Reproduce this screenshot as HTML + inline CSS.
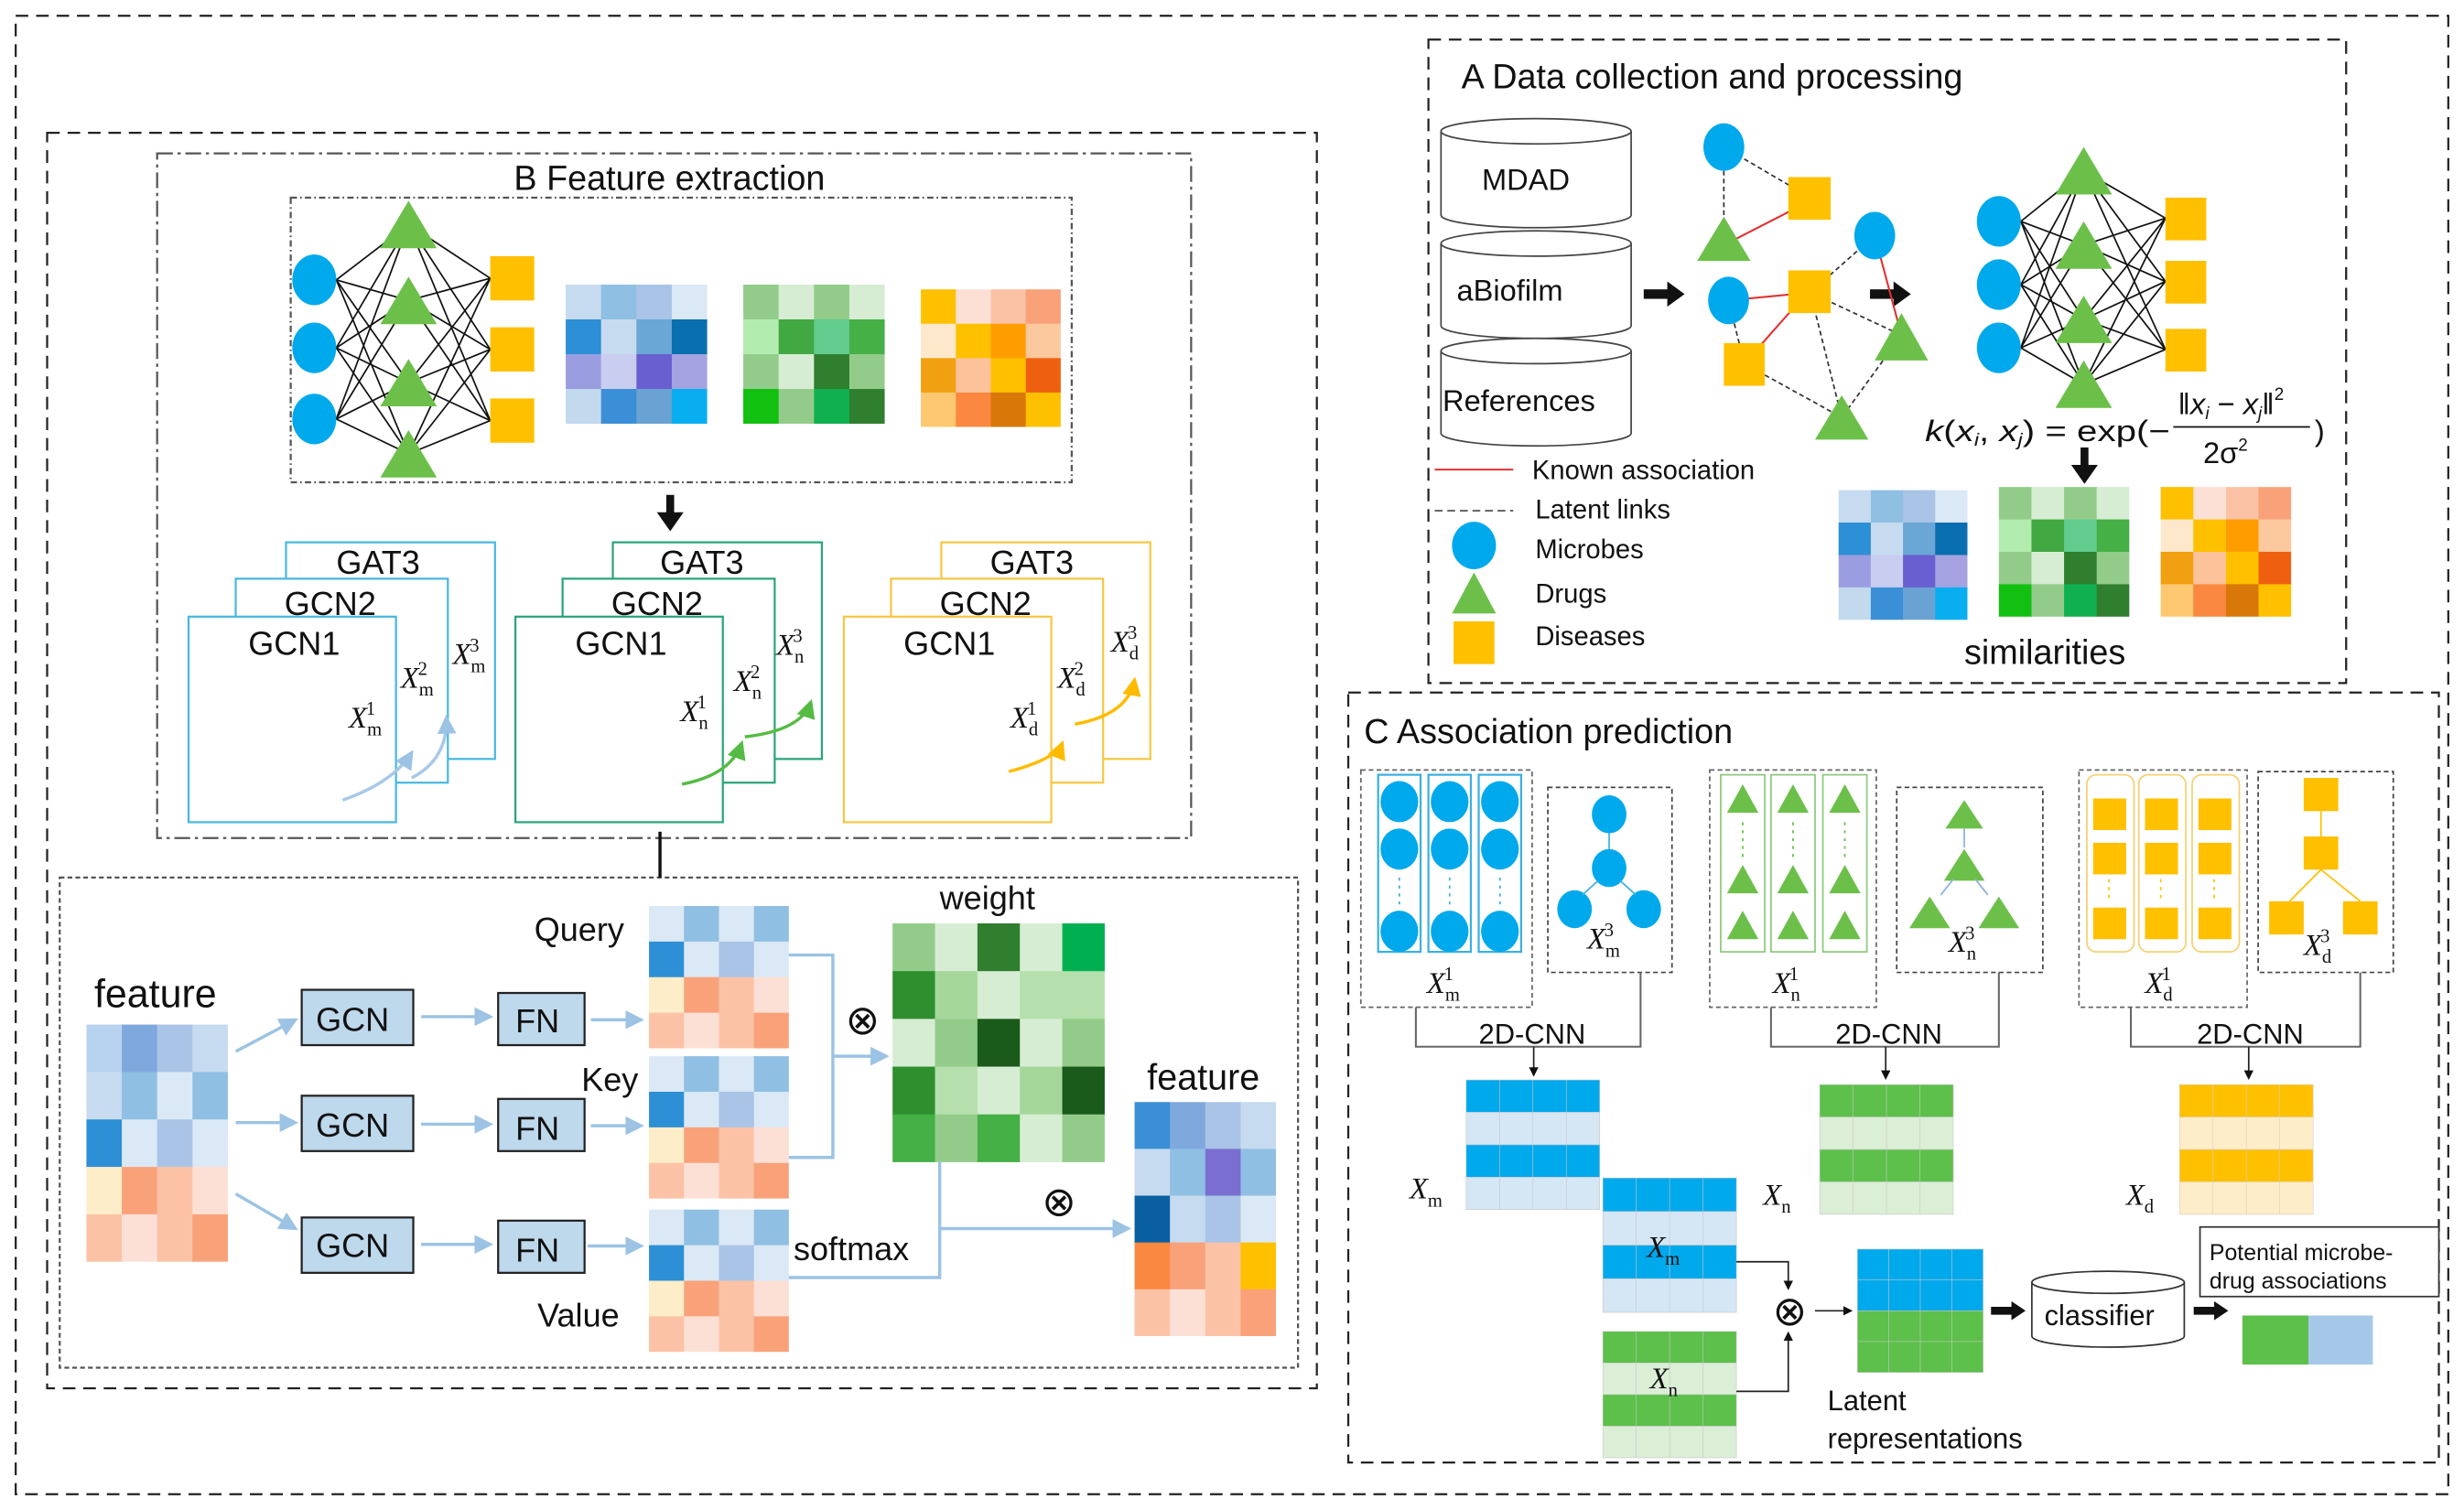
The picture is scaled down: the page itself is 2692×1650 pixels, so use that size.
<!DOCTYPE html>
<html><head><meta charset="utf-8"><style>
html,body{margin:0;padding:0;background:#fff}
svg{display:block}
text{font-family:"Liberation Sans",sans-serif;fill:#111}
.m{font-family:"Liberation Serif",serif;font-style:italic}
</style></head><body>
<svg width="2692" height="1650" viewBox="0 0 1568 955" preserveAspectRatio="none" xmlns="http://www.w3.org/2000/svg" xmlns:xlink="http://www.w3.org/1999/xlink">
<defs>
<marker id="ab" markerWidth="6" markerHeight="6" refX="5" refY="3" orient="auto"><path d="M0,0L6,3L0,6z" fill="#9cc3e4"/></marker>
<marker id="ak" markerWidth="6" markerHeight="6" refX="5" refY="3" orient="auto"><path d="M0,0L6,3L0,6z" fill="#111"/></marker>
<marker id="ag" markerWidth="6" markerHeight="6" refX="5" refY="3" orient="auto"><path d="M0,0L6,3L0,6z" fill="#55bb44"/></marker>
<marker id="ao" markerWidth="6" markerHeight="6" refX="5" refY="3" orient="auto"><path d="M0,0L6,3L0,6z" fill="#ffbb00"/></marker>
<g id="bl">
<rect x="0" y="0" width="25.5" height="25.5" fill="#c6dbef"/><rect x="25" y="0" width="25.5" height="25.5" fill="#8fbfe3"/><rect x="50" y="0" width="25.5" height="25.5" fill="#a9c4e6"/><rect x="75" y="0" width="25" height="25.5" fill="#dbe8f5"/>
<rect x="0" y="25" width="25.5" height="25.5" fill="#2d8fd5"/><rect x="25" y="25" width="25.5" height="25.5" fill="#c6dbef"/><rect x="50" y="25" width="25.5" height="25.5" fill="#6aa6d6"/><rect x="75" y="25" width="25" height="25.5" fill="#0a6fb0"/>
<rect x="0" y="50" width="25.5" height="25.5" fill="#9a9ee0"/><rect x="25" y="50" width="25.5" height="25.5" fill="#c9cdf0"/><rect x="50" y="50" width="25.5" height="25.5" fill="#6a5fd0"/><rect x="75" y="50" width="25" height="25.5" fill="#a4a2e0"/>
<rect x="0" y="75" width="25.5" height="25" fill="#c2d9ee"/><rect x="25" y="75" width="25.5" height="25" fill="#3a8fd6"/><rect x="50" y="75" width="25.5" height="25" fill="#6aa3d3"/><rect x="75" y="75" width="25" height="25" fill="#08aef0"/>
</g>
<g id="gr">
<rect x="0" y="0" width="25.5" height="25.5" fill="#93cc8a"/><rect x="25" y="0" width="25.5" height="25.5" fill="#d6edd3"/><rect x="50" y="0" width="25.5" height="25.5" fill="#93cc8a"/><rect x="75" y="0" width="25" height="25.5" fill="#d6edd3"/>
<rect x="0" y="25" width="25.5" height="25.5" fill="#b2ecae"/><rect x="25" y="25" width="25.5" height="25.5" fill="#42a842"/><rect x="50" y="25" width="25.5" height="25.5" fill="#62cc8e"/><rect x="75" y="25" width="25" height="25.5" fill="#45b045"/>
<rect x="0" y="50" width="25.5" height="25.5" fill="#93cc8a"/><rect x="25" y="50" width="25.5" height="25.5" fill="#d6edd3"/><rect x="50" y="50" width="25.5" height="25.5" fill="#2f7f2f"/><rect x="75" y="50" width="25" height="25.5" fill="#93cc8a"/>
<rect x="0" y="75" width="25.5" height="25" fill="#12c012"/><rect x="25" y="75" width="25.5" height="25" fill="#93cc8a"/><rect x="50" y="75" width="25.5" height="25" fill="#10b050"/><rect x="75" y="75" width="25" height="25" fill="#2f7f2f"/>
</g>
<g id="or">
<rect x="0" y="0" width="25.5" height="25.5" fill="#ffc000"/><rect x="25" y="0" width="25.5" height="25.5" fill="#fde0d5"/><rect x="50" y="0" width="25.5" height="25.5" fill="#fcc2a5"/><rect x="75" y="0" width="25" height="25.5" fill="#f9a27a"/>
<rect x="0" y="25" width="25.5" height="25.5" fill="#fde8cc"/><rect x="25" y="25" width="25.5" height="25.5" fill="#ffc000"/><rect x="50" y="25" width="25.5" height="25.5" fill="#ff9d00"/><rect x="75" y="25" width="25" height="25.5" fill="#fcc89e"/>
<rect x="0" y="50" width="25.5" height="25.5" fill="#f0a010"/><rect x="25" y="50" width="25.5" height="25.5" fill="#fcc29a"/><rect x="50" y="50" width="25.5" height="25.5" fill="#ffc000"/><rect x="75" y="50" width="25" height="25.5" fill="#ee6010"/>
<rect x="0" y="75" width="25.5" height="25" fill="#fdc870"/><rect x="25" y="75" width="25.5" height="25" fill="#fa8840"/><rect x="50" y="75" width="25.5" height="25" fill="#d87808"/><rect x="75" y="75" width="25" height="25" fill="#ffc000"/>
</g>
<g id="qk">
<rect x="0" y="0" width="25.5" height="25.5" fill="#dbe8f5"/><rect x="25" y="0" width="25.5" height="25.5" fill="#8fbfe3"/><rect x="50" y="0" width="25.5" height="25.5" fill="#dbe8f5"/><rect x="75" y="0" width="25" height="25.5" fill="#8fbfe3"/>
<rect x="0" y="25" width="25.5" height="25.5" fill="#2d8fd5"/><rect x="25" y="25" width="25.5" height="25.5" fill="#dbe8f5"/><rect x="50" y="25" width="25.5" height="25.5" fill="#a9c4e6"/><rect x="75" y="25" width="25" height="25.5" fill="#dbe8f5"/>
<rect x="0" y="50" width="25.5" height="25.5" fill="#fdedc8"/><rect x="25" y="50" width="25.5" height="25.5" fill="#f9a27a"/><rect x="50" y="50" width="25.5" height="25.5" fill="#fcc2a5"/><rect x="75" y="50" width="25" height="25.5" fill="#fde0d5"/>
<rect x="0" y="75" width="25.5" height="25" fill="#fcc2a5"/><rect x="25" y="75" width="25.5" height="25" fill="#fde0d5"/><rect x="50" y="75" width="25.5" height="25" fill="#fcc2a5"/><rect x="75" y="75" width="25" height="25" fill="#f9a27a"/>
</g>
<g id="gB" stroke="#c8c8c8" stroke-width="0.6">
<rect x="0" y="0" width="100" height="25" fill="#00a8ec" vector-effect="non-scaling-stroke"/><rect x="0" y="25" width="100" height="25" fill="#d5e6f5" vector-effect="non-scaling-stroke"/><rect x="0" y="50" width="100" height="25" fill="#00a8ec" vector-effect="non-scaling-stroke"/><rect x="0" y="75" width="100" height="25" fill="#d5e6f5" vector-effect="non-scaling-stroke"/>
<path d="M25,0V100M50,0V100M75,0V100" vector-effect="non-scaling-stroke"/>
</g>
<g id="gG" stroke="#c8c8c8" stroke-width="0.6">
<rect x="0" y="0" width="100" height="25" fill="#5cc04a" vector-effect="non-scaling-stroke"/><rect x="0" y="25" width="100" height="25" fill="#dbeed6" vector-effect="non-scaling-stroke"/><rect x="0" y="50" width="100" height="25" fill="#5cc04a" vector-effect="non-scaling-stroke"/><rect x="0" y="75" width="100" height="25" fill="#dbeed6" vector-effect="non-scaling-stroke"/>
<path d="M25,0V100M50,0V100M75,0V100" vector-effect="non-scaling-stroke"/>
</g>
<g id="gO" stroke="#d8d0c0" stroke-width="0.6">
<rect x="0" y="0" width="100" height="25" fill="#ffc000" vector-effect="non-scaling-stroke"/><rect x="0" y="25" width="100" height="25" fill="#fdedc8" vector-effect="non-scaling-stroke"/><rect x="0" y="50" width="100" height="25" fill="#ffc000" vector-effect="non-scaling-stroke"/><rect x="0" y="75" width="100" height="25" fill="#fdedc8" vector-effect="non-scaling-stroke"/>
<path d="M25,0V100M50,0V100M75,0V100" vector-effect="non-scaling-stroke"/>
</g>
<g id="gL" stroke="#c8c8c8" stroke-width="0.6">
<rect x="0" y="0" width="100" height="25" fill="#00a8ec" vector-effect="non-scaling-stroke"/><rect x="0" y="25" width="100" height="25" fill="#00a8ec" vector-effect="non-scaling-stroke"/><rect x="0" y="50" width="100" height="25" fill="#5cc04a" vector-effect="non-scaling-stroke"/><rect x="0" y="75" width="100" height="25" fill="#5cc04a" vector-effect="non-scaling-stroke"/>
<path d="M25,0V100M50,0V100M75,0V100" vector-effect="non-scaling-stroke"/>
</g>
</defs>

<g fill="none" stroke="#222" stroke-width="1.3">
<rect x="10" y="10" width="1548" height="935" stroke-dasharray="8,5"/>
<rect x="30" y="84" width="808" height="794" stroke-dasharray="8,5"/>
<rect x="100" y="97" width="658" height="433" stroke-dasharray="10,3,2,3" stroke="#555"/>
<rect x="185" y="125" width="497" height="180" stroke-dasharray="4,2,1,2" stroke="#555"/>
<rect x="38" y="555" width="788" height="310" stroke-dasharray="3,2" stroke="#555"/>
<rect x="909" y="25" width="584" height="407" stroke-dasharray="8,5"/>
<rect x="858" y="438" width="694" height="487" stroke-dasharray="8,5"/>
</g>

<!-- ===== B top network ===== -->
<path fill="none" stroke="#111" stroke-width="1" d="M214,177L260,142M214,177L260,190M214,177L260,242M214,177L260,287M214,220L260,142M214,220L260,190M214,220L260,242M214,220L260,287M214,265L260,142M214,265L260,190M214,265L260,242M214,265L260,287M260,142L312,176M260,142L312,221M260,142L312,266M260,190L312,176M260,190L312,221M260,190L312,266M260,242L312,176M260,242L312,221M260,242L312,266M260,287L312,176M260,287L312,221M260,287L312,266"/>
<g fill="#00a8ec"><ellipse cx="200" cy="177" rx="14" ry="16"/><ellipse cx="200" cy="220" rx="14" ry="16"/><ellipse cx="200" cy="265" rx="14" ry="16"/></g>
<g fill="#6cc04a"><polygon points="242,157 260,127 278,157"/><polygon points="242,205 260,175 278,205"/><polygon points="242,257 260,227 278,257"/><polygon points="242,302 260,272 278,302"/></g>
<g fill="#ffc000"><rect x="312" y="162" width="28" height="28"/><rect x="312" y="207" width="28" height="28"/><rect x="312" y="252" width="28" height="28"/></g>
<use xlink:href="#bl" transform="translate(360,180) scale(0.9,0.88)"/>
<use xlink:href="#gr" transform="translate(473,180) scale(0.9,0.88)"/>
<use xlink:href="#or" transform="translate(586,183) scale(0.89,0.87)"/>
<rect x="424" y="313" width="5" height="12" fill="#111"/><polygon points="418,324 435,324 426.5,336" fill="#111"/>

<!-- stacks -->
<g fill="#fff" stroke-width="1.3">
<rect x="182" y="343" width="133" height="137" stroke="#49b8e0"/><rect x="150" y="366" width="135" height="129" stroke="#49b8e0"/><rect x="120" y="390" width="132" height="130" stroke="#49b8e0"/>
<rect x="390" y="343" width="133" height="137" stroke="#2aa57a"/><rect x="358" y="366" width="135" height="129" stroke="#2aa57a"/><rect x="328" y="390" width="132" height="130" stroke="#2aa57a"/>
<rect x="599" y="343" width="133" height="137" stroke="#f6c744"/><rect x="567" y="366" width="135" height="129" stroke="#f6c744"/><rect x="537" y="390" width="132" height="130" stroke="#f6c744"/>
</g>
<g fill="none" stroke-width="2">
<path d="M218,506 Q250,495 262,476" stroke="#a8c8e8" marker-end="url(#ab)"/>
<path d="M262,492 Q285,480 284,454" stroke="#a8c8e8" marker-end="url(#ab)"/>
<path d="M434,496 Q465,490 472,470" stroke="#55bb44" marker-end="url(#ag)"/>
<path d="M474,466 Q510,462 516,444" stroke="#55bb44" marker-end="url(#ag)"/>
<path d="M642,488 Q672,480 676,470" stroke="#ffbb00" marker-end="url(#ao)"/>
<path d="M684,458 Q718,452 722,430" stroke="#ffbb00" marker-end="url(#ao)"/>
</g>
<g font-size="21">
<text x="214" y="363">GAT3</text><text x="181" y="389">GCN2</text><text x="158" y="414">GCN1</text>
<text x="420" y="363">GAT3</text><text x="389" y="389">GCN2</text><text x="366" y="414">GCN1</text>
<text x="630" y="363">GAT3</text><text x="598" y="389">GCN2</text><text x="575" y="414">GCN1</text>
</g>
<g font-size="19">
<text x="222" y="460" class="m">X<tspan font-size="12" dy="5" font-style="normal">m</tspan><tspan font-size="12" dx="-10" dy="-13" font-style="normal">1</tspan></text>
<text x="255" y="435" class="m">X<tspan font-size="12" dy="5" font-style="normal">m</tspan><tspan font-size="12" dx="-10" dy="-13" font-style="normal">2</tspan></text>
<text x="288" y="420" class="m">X<tspan font-size="12" dy="5" font-style="normal">m</tspan><tspan font-size="12" dx="-10" dy="-13" font-style="normal">3</tspan></text>
<text x="433" y="456" class="m">X<tspan font-size="12" dy="5" font-style="normal">n</tspan><tspan font-size="12" dx="-7" dy="-13" font-style="normal">1</tspan></text>
<text x="467" y="437" class="m">X<tspan font-size="12" dy="5" font-style="normal">n</tspan><tspan font-size="12" dx="-7" dy="-13" font-style="normal">2</tspan></text>
<text x="494" y="414" class="m">X<tspan font-size="12" dy="5" font-style="normal">n</tspan><tspan font-size="12" dx="-7" dy="-13" font-style="normal">3</tspan></text>
<text x="643" y="460" class="m">X<tspan font-size="12" dy="5" font-style="normal">d</tspan><tspan font-size="12" dx="-7" dy="-13" font-style="normal">1</tspan></text>
<text x="673" y="435" class="m">X<tspan font-size="12" dy="5" font-style="normal">d</tspan><tspan font-size="12" dx="-7" dy="-13" font-style="normal">2</tspan></text>
<text x="707" y="412" class="m">X<tspan font-size="12" dy="5" font-style="normal">d</tspan><tspan font-size="12" dx="-7" dy="-13" font-style="normal">3</tspan></text>
</g>
<line x1="420" y1="555" x2="420" y2="526" stroke="#111" stroke-width="2"/>

<!-- ===== B bottom ===== -->
<g transform="translate(55,648)">
<rect x="0" y="0" width="23" height="31" fill="#b8d3ef"/><rect x="22.5" y="0" width="23" height="31" fill="#7fa8dd"/><rect x="45" y="0" width="23" height="31" fill="#a9c4e6"/><rect x="67.5" y="0" width="22.5" height="31" fill="#c6dbef"/>
<rect x="0" y="30" width="23" height="31" fill="#c6dbef"/><rect x="22.5" y="30" width="23" height="31" fill="#8fbfe3"/><rect x="45" y="30" width="23" height="31" fill="#dbe8f5"/><rect x="67.5" y="30" width="22.5" height="31" fill="#8fbfe3"/>
<rect x="0" y="60" width="23" height="31" fill="#2d8fd5"/><rect x="22.5" y="60" width="23" height="31" fill="#dbe8f5"/><rect x="45" y="60" width="23" height="31" fill="#a9c4e6"/><rect x="67.5" y="60" width="22.5" height="31" fill="#dbe8f5"/>
<rect x="0" y="90" width="23" height="31" fill="#fdedc8"/><rect x="22.5" y="90" width="23" height="31" fill="#f9a27a"/><rect x="45" y="90" width="23" height="31" fill="#fcc2a5"/><rect x="67.5" y="90" width="22.5" height="31" fill="#fde0d5"/>
<rect x="0" y="120" width="23" height="30" fill="#fcc2a5"/><rect x="22.5" y="120" width="23" height="30" fill="#fde0d5"/><rect x="45" y="120" width="23" height="30" fill="#fcc2a5"/><rect x="67.5" y="120" width="22.5" height="30" fill="#f9a27a"/>
</g>
<g transform="translate(722,697)">
<rect x="0" y="0" width="23" height="30" fill="#3a8fd6"/><rect x="22.5" y="0" width="23" height="30" fill="#7fa8dd"/><rect x="45" y="0" width="23" height="30" fill="#a9c4e6"/><rect x="67.5" y="0" width="22.5" height="30" fill="#c6dbef"/>
<rect x="0" y="29.6" width="23" height="30" fill="#c6dbef"/><rect x="22.5" y="29.6" width="23" height="30" fill="#8fbfe3"/><rect x="45" y="29.6" width="23" height="30" fill="#7a6ed0"/><rect x="67.5" y="29.6" width="22.5" height="30" fill="#8fbfe3"/>
<rect x="0" y="59.2" width="23" height="30" fill="#0a5fa0"/><rect x="22.5" y="59.2" width="23" height="30" fill="#c6dbef"/><rect x="45" y="59.2" width="23" height="30" fill="#a9c4e6"/><rect x="67.5" y="59.2" width="22.5" height="30" fill="#dbe8f5"/>
<rect x="0" y="88.8" width="23" height="30" fill="#fa8840"/><rect x="22.5" y="88.8" width="23" height="30" fill="#f9a27a"/><rect x="45" y="88.8" width="23" height="30" fill="#fcc2a5"/><rect x="67.5" y="88.8" width="22.5" height="30" fill="#ffc000"/>
<rect x="0" y="118.4" width="23" height="29.6" fill="#fcc2a5"/><rect x="22.5" y="118.4" width="23" height="29.6" fill="#fde0d5"/><rect x="45" y="118.4" width="23" height="29.6" fill="#fcc2a5"/><rect x="67.5" y="118.4" width="22.5" height="29.6" fill="#f9a27a"/>
</g>
<g transform="translate(568,584)">
<rect x="0" y="0" width="27.5" height="30.5" fill="#93cc8a"/><rect x="27" y="0" width="27.5" height="30.5" fill="#d6edd3"/><rect x="54" y="0" width="27.5" height="30.5" fill="#2f7f2f"/><rect x="81" y="0" width="27.5" height="30.5" fill="#d6edd3"/><rect x="108" y="0" width="27" height="30.5" fill="#00b050"/>
<rect x="0" y="30.2" width="27.5" height="30.5" fill="#2f8f2f"/><rect x="27" y="30.2" width="27.5" height="30.5" fill="#a5d69a"/><rect x="54" y="30.2" width="27.5" height="30.5" fill="#d6edd3"/><rect x="81" y="30.2" width="27.5" height="30.5" fill="#b5dfac"/><rect x="108" y="30.2" width="27" height="30.5" fill="#b5dfac"/>
<rect x="0" y="60.4" width="27.5" height="30.5" fill="#d6edd3"/><rect x="27" y="60.4" width="27.5" height="30.5" fill="#93cc8a"/><rect x="54" y="60.4" width="27.5" height="30.5" fill="#1a5a1a"/><rect x="81" y="60.4" width="27.5" height="30.5" fill="#d6edd3"/><rect x="108" y="60.4" width="27" height="30.5" fill="#93cc8a"/>
<rect x="0" y="90.6" width="27.5" height="30.5" fill="#2f8f2f"/><rect x="27" y="90.6" width="27.5" height="30.5" fill="#b5dfac"/><rect x="54" y="90.6" width="27.5" height="30.5" fill="#d6edd3"/><rect x="81" y="90.6" width="27.5" height="30.5" fill="#a5d69a"/><rect x="108" y="90.6" width="27" height="30.5" fill="#1a5a1a"/>
<rect x="0" y="120.8" width="27.5" height="30.2" fill="#45b045"/><rect x="27" y="120.8" width="27.5" height="30.2" fill="#93cc8a"/><rect x="54" y="120.8" width="27.5" height="30.2" fill="#45b045"/><rect x="81" y="120.8" width="27.5" height="30.2" fill="#d6edd3"/><rect x="108" y="120.8" width="27" height="30.2" fill="#93cc8a"/>
</g>
<use xlink:href="#qk" transform="translate(413,573) scale(0.89,0.9)"/>
<use xlink:href="#qk" transform="translate(413,668) scale(0.89,0.9)"/>
<use xlink:href="#qk" transform="translate(413,765) scale(0.89,0.9)"/>
<g fill="#bed8ec" stroke="#222" stroke-width="1.3">
<rect x="192" y="626" width="71" height="35"/><rect x="192" y="693" width="71" height="35"/><rect x="192" y="770" width="71" height="35"/>
<rect x="317" y="628" width="55" height="33"/><rect x="317" y="695" width="55" height="33"/><rect x="317" y="772" width="55" height="33"/>
</g>
<g stroke="#9cc3e4" stroke-width="2" fill="none">
<line x1="150" y1="665" x2="188" y2="645" marker-end="url(#ab)"/><line x1="150" y1="710" x2="188" y2="710" marker-end="url(#ab)"/><line x1="150" y1="755" x2="188" y2="777" marker-end="url(#ab)"/>
<line x1="268" y1="643" x2="312" y2="643" marker-end="url(#ab)"/><line x1="268" y1="711" x2="312" y2="711" marker-end="url(#ab)"/><line x1="268" y1="787" x2="312" y2="787" marker-end="url(#ab)"/>
<line x1="376" y1="645" x2="408" y2="645" marker-end="url(#ab)"/><line x1="376" y1="712" x2="408" y2="712" marker-end="url(#ab)"/><line x1="374" y1="788" x2="408" y2="788" marker-end="url(#ab)"/>
<path d="M502,604 H530 V732 H502"/><line x1="530" y1="668" x2="564" y2="668" marker-end="url(#ab)"/>
<path d="M502,808 H598 V735"/><line x1="598" y1="777" x2="718" y2="777" marker-end="url(#ab)"/>
</g>
<text x="60" y="637" font-size="25">feature</text>
<text x="730" y="689" font-size="23">feature</text>
<text x="598" y="575" font-size="21">weight</text>
<text x="340" y="595" font-size="21">Query</text>
<text x="370" y="690" font-size="21">Key</text>
<text x="342" y="839" font-size="21">Value</text>
<text x="505" y="797" font-size="21">softmax</text>
<g font-size="21"><text x="201" y="652">GCN</text><text x="201" y="719">GCN</text><text x="201" y="795">GCN</text>
<text x="328" y="653">FN</text><text x="328" y="721">FN</text><text x="328" y="798">FN</text></g>
<g font-size="26" font-family="DejaVu Sans"><text x="538" y="654">⊗</text><text x="663" y="769">⊗</text><text x="1128" y="838">⊗</text></g>
<text x="327" y="120" font-size="22">B  Feature extraction</text>

<!-- ===== A ===== -->
<text x="930" y="56" font-size="22">A  Data collection and processing</text>
<g fill="#fff" stroke="#444" stroke-width="1">
<path d="M917,83 V136 A60.5,8 0 0 0 1038,136 V83"/><ellipse cx="977.5" cy="83" rx="60.5" ry="8"/>
<path d="M917,154 V206 A60.5,8 0 0 0 1038,206 V154"/><ellipse cx="977.5" cy="154" rx="60.5" ry="8"/>
<path d="M917,222 V274 A60.5,8 0 0 0 1038,274 V222"/><ellipse cx="977.5" cy="222" rx="60.5" ry="8"/>
</g>
<g font-size="19"><text x="943" y="120">MDAD</text><text x="927" y="190">aBiofilm</text><text x="918" y="260">References</text></g>
<g fill="#111"><rect x="1046" y="183" width="16" height="6"/><polygon points="1061,178 1072,186 1061,194"/><rect x="1190" y="183" width="16" height="6"/><polygon points="1205,178 1216,186 1205,194"/></g>
<g stroke="#333" stroke-dasharray="3,2" stroke-width="1">
<line x1="1097" y1="93" x2="1152" y2="125"/><line x1="1097" y1="93" x2="1097" y2="150"/><line x1="1193" y1="149" x2="1152" y2="185"/><line x1="1100" y1="190" x2="1110" y2="230"/>
<line x1="1152" y1="185" x2="1210" y2="212"/><line x1="1152" y1="185" x2="1172" y2="264"/><line x1="1210" y1="212" x2="1172" y2="264"/><line x1="1110" y1="230" x2="1172" y2="264"/>
</g>
<g stroke="#e23030" stroke-width="1.2">
<line x1="1097" y1="155" x2="1152" y2="127"/><line x1="1100" y1="190" x2="1152" y2="185"/><line x1="1193" y1="149" x2="1210" y2="212"/><line x1="1110" y1="230" x2="1150" y2="185"/>
</g>
<g fill="#00a8ec"><ellipse cx="1097" cy="93" rx="13" ry="15"/><ellipse cx="1193" cy="149" rx="13" ry="15"/><ellipse cx="1100" cy="190" rx="13" ry="15"/></g>
<g fill="#ffc000"><rect x="1138" y="112" width="27" height="27"/><rect x="1138" y="171" width="27" height="27"/><rect x="1097" y="217" width="26" height="27"/></g>
<g fill="#6cc04a"><polygon points="1080,165 1097,137 1114,165"/><polygon points="1193,228 1210,198 1227,228"/><polygon points="1155,278 1172,250 1189,278"/></g>
<path fill="none" stroke="#111" stroke-width="1" d="M1286,140L1326,108M1286,140L1326,155M1286,140L1326,202M1286,140L1326,243M1286,180L1326,108M1286,180L1326,155M1286,180L1326,202M1286,180L1326,243M1286,220L1326,108M1286,220L1326,155M1286,220L1326,202M1286,220L1326,243M1326,108L1378,138M1326,108L1378,178M1326,108L1378,221M1326,155L1378,138M1326,155L1378,178M1326,155L1378,221M1326,202L1378,138M1326,202L1378,178M1326,202L1378,221M1326,243L1378,138M1326,243L1378,178M1326,243L1378,221"/>
<g fill="#00a8ec"><ellipse cx="1272" cy="140" rx="14" ry="16"/><ellipse cx="1272" cy="180" rx="14" ry="16"/><ellipse cx="1272" cy="220" rx="14" ry="16"/></g>
<g fill="#6cc04a"><polygon points="1308,123 1326,93 1344,123"/><polygon points="1308,170 1326,140 1344,170"/><polygon points="1308,217 1326,187 1344,217"/><polygon points="1308,258 1326,228 1344,258"/></g>
<g fill="#ffc000"><rect x="1378" y="125" width="26" height="27"/><rect x="1378" y="165" width="26" height="27"/><rect x="1378" y="208" width="26" height="27"/></g>
<g font-family="Liberation Serif" font-size="19">
<text x="1225" y="279" textLength="156" lengthAdjust="spacingAndGlyphs" font-family="Liberation Serif"><tspan font-style="italic">k</tspan>(<tspan font-style="italic">x</tspan><tspan font-size="11" dy="3" font-style="italic">i</tspan><tspan dy="-3">, </tspan><tspan font-style="italic">x</tspan><tspan font-size="11" dy="3" font-style="italic">j</tspan><tspan dy="-3">) = exp(−</tspan></text>
<text x="1386" y="262" font-family="Liberation Serif">‖<tspan font-style="italic">x</tspan><tspan font-size="11" dy="3" font-style="italic">i</tspan><tspan dy="-3"> − </tspan><tspan font-style="italic">x</tspan><tspan font-size="11" dy="3" font-style="italic">j</tspan><tspan dy="-3">‖</tspan><tspan font-size="11" dy="-9">2</tspan></text>
<text x="1402" y="293" font-family="Liberation Serif">2σ<tspan font-size="11" dy="-8">2</tspan></text><text x="1473" y="279" font-family="Liberation Serif">)</text>
</g>
<line x1="1383" y1="270" x2="1470" y2="270" stroke="#111" stroke-width="1"/>
<rect x="1324" y="283" width="5" height="13" fill="#111"/><polygon points="1318,294 1335,294 1326.5,306" fill="#111"/>
<use xlink:href="#bl" transform="translate(1170,310) scale(0.82,0.82)"/>
<use xlink:href="#gr" transform="translate(1272,308) scale(0.83,0.82)"/>
<use xlink:href="#or" transform="translate(1375,308) scale(0.83,0.82)"/>
<text x="1250" y="420" font-size="22">similarities</text>
<line x1="913" y1="297" x2="963" y2="297" stroke="#e23030" stroke-width="1.2"/>
<line x1="913" y1="323" x2="963" y2="323" stroke="#444" stroke-dasharray="5,3"/>
<ellipse cx="938" cy="345" rx="14" ry="15" fill="#00a8ec"/>
<polygon points="924,388 938,362 952,388" fill="#6cc04a"/>
<rect x="925" y="393" width="26" height="27" fill="#ffc000"/>
<g font-size="17"><text x="975" y="303">Known association</text><text x="977" y="328">Latent links</text><text x="977" y="353">Microbes</text><text x="977" y="381">Drugs</text><text x="977" y="408">Diseases</text></g>

<!-- ===== C ===== -->
<text x="868" y="470" font-size="22">C  Association prediction</text>
<g fill="none" stroke-dasharray="3,2" stroke-width="1">
<rect x="866" y="487" width="109" height="150" stroke="#666"/><rect x="985" y="498" width="79" height="117" stroke="#444"/>
<rect x="1088" y="487" width="106" height="150" stroke="#666"/><rect x="1207" y="498" width="93" height="117" stroke="#444"/>
<rect x="1323" y="487" width="107" height="150" stroke="#666"/><rect x="1437" y="488" width="86" height="127" stroke="#444"/>
</g>
<g fill="none" stroke="#3bb0e0" stroke-width="1.3"><rect x="877" y="490" width="27" height="112"/><rect x="909" y="490" width="27" height="112"/><rect x="941" y="490" width="27" height="112"/></g>
<g fill="#00a8ec">
<ellipse cx="890.5" cy="507" rx="12" ry="13"/><ellipse cx="890.5" cy="537" rx="12" ry="13"/><ellipse cx="890.5" cy="589" rx="12" ry="13"/>
<ellipse cx="922.5" cy="507" rx="12" ry="13"/><ellipse cx="922.5" cy="537" rx="12" ry="13"/><ellipse cx="922.5" cy="589" rx="12" ry="13"/>
<ellipse cx="954.5" cy="507" rx="12" ry="13"/><ellipse cx="954.5" cy="537" rx="12" ry="13"/><ellipse cx="954.5" cy="589" rx="12" ry="13"/>
<ellipse cx="1024" cy="515" rx="11" ry="12"/><ellipse cx="1024" cy="549" rx="11" ry="12"/><ellipse cx="1002" cy="575" rx="11" ry="12"/><ellipse cx="1046" cy="575" rx="11" ry="12"/>
</g>
<path d="M890.5,555V573M922.5,555V573M954.5,555V573" stroke="#3bb0e0" stroke-dasharray="2,3"/>
<path d="M1024,527V537M1017,557L1007,566M1031,557L1041,566" stroke="#3bb0e0"/>
<g fill="none" stroke="#8cc87a" stroke-width="1"><rect x="1095" y="490" width="28" height="112"/><rect x="1127" y="490" width="28" height="112"/><rect x="1160" y="490" width="28" height="112"/></g>
<g fill="#6cc04a">
<polygon points="1099,514 1109,496 1119,514"/><polygon points="1099,565 1109,547 1119,565"/><polygon points="1099,594 1109,576 1119,594"/>
<polygon points="1131,514 1141,496 1151,514"/><polygon points="1131,565 1141,547 1151,565"/><polygon points="1131,594 1141,576 1151,594"/>
<polygon points="1164,514 1174,496 1184,514"/><polygon points="1164,565 1174,547 1184,565"/><polygon points="1164,594 1174,576 1184,594"/>
<polygon points="1238,524 1250,506 1262,524"/><polygon points="1237,557 1250,537 1263,557"/><polygon points="1215,587 1228,567 1241,587"/><polygon points="1259,587 1272,567 1285,587"/>
</g>
<path d="M1109,520V542M1141,520V542M1174,520V542" stroke="#6cc04a" stroke-dasharray="2,3"/>
<path d="M1250,524V536M1243,556L1235,566M1257,556L1265,566" stroke="#8ab0e0"/>
<g fill="none" stroke="#f6d070" stroke-width="1"><rect x="1328" y="490" width="30" height="112" rx="6"/><rect x="1361" y="490" width="30" height="112" rx="6"/><rect x="1395" y="490" width="30" height="112" rx="6"/></g>
<g fill="#ffc000">
<rect x="1332" y="505" width="21" height="20"/><rect x="1332" y="533" width="21" height="20"/><rect x="1332" y="574" width="21" height="20"/>
<rect x="1365" y="505" width="21" height="20"/><rect x="1365" y="533" width="21" height="20"/><rect x="1365" y="574" width="21" height="20"/>
<rect x="1399" y="505" width="21" height="20"/><rect x="1399" y="533" width="21" height="20"/><rect x="1399" y="574" width="21" height="20"/>
<rect x="1466" y="492" width="22" height="21"/><rect x="1466" y="529" width="22" height="21"/><rect x="1444" y="570" width="22" height="21"/><rect x="1491" y="570" width="22" height="21"/>
</g>
<path d="M1342,556V571M1375,556V571M1409,556V571" stroke="#ffc000" stroke-dasharray="2,3"/>
<path d="M1477,513V529M1477,550L1457,570M1477,550L1502,570" stroke="#ffc000"/>
<g fill="none" stroke="#666" stroke-width="1.2"><path d="M901,637 V662 H1044 V615"/><path d="M1127,637 V662 H1272 V615"/><path d="M1356,637 V662 H1502 V615"/></g>
<g stroke="#222"><line x1="976" y1="662" x2="976" y2="680" marker-end="url(#ak)"/><line x1="1200" y1="662" x2="1200" y2="682" marker-end="url(#ak)"/><line x1="1431" y1="662" x2="1431" y2="682" marker-end="url(#ak)"/></g>
<g font-size="18"><text x="941" y="660">2D-CNN</text><text x="1168" y="660">2D-CNN</text><text x="1398" y="660">2D-CNN</text></g>
<use xlink:href="#gB" transform="translate(933,683) scale(0.85,0.82)"/>
<use xlink:href="#gG" transform="translate(1158,686) scale(0.85,0.82)"/>
<use xlink:href="#gO" transform="translate(1387,686) scale(0.85,0.82)"/>
<use xlink:href="#gB" transform="translate(1020,745) scale(0.85,0.85)"/>
<use xlink:href="#gG" transform="translate(1020,842) scale(0.85,0.8)"/>
<use xlink:href="#gL" transform="translate(1182,790) scale(0.8,0.78)"/>
<g fill="none" stroke="#222"><path d="M1105,798 H1138 V815" marker-end="url(#ak)"/><path d="M1105,880 H1138 V843" marker-end="url(#ak)"/><line x1="1155" y1="829" x2="1178" y2="829" marker-end="url(#ak)"/></g>
<g fill="#111"><rect x="1267" y="826.5" width="14" height="5"/><polygon points="1280,823 1289,829 1280,835"/><rect x="1396" y="826.5" width="14" height="5"/><polygon points="1409,823 1418,829 1409,835"/></g>
<path d="M1293,811 V845 A48.5,7 0 0 0 1390,845 V811" fill="#fff" stroke="#333"/><ellipse cx="1341.5" cy="811" rx="48.5" ry="7" fill="#fff" stroke="#333"/>
<text x="1301" y="838" font-size="18">classifier</text>
<rect x="1400" y="776" width="152" height="44" fill="#fff" stroke="#333"/>
<g font-size="14.5"><text x="1406" y="797">Potential microbe-</text><text x="1406" y="815">drug associations</text></g>
<rect x="1427" y="832" width="42" height="31" fill="#5cc04a"/><rect x="1469" y="832" width="41" height="31" fill="#a5c8e8"/>
<g font-size="18"><text x="1163" y="892">Latent</text><text x="1163" y="916">representations</text></g>
<g font-size="19">
<text x="908" y="628" class="m">X<tspan font-size="12" dy="5" font-style="normal">m</tspan><tspan font-size="12" dx="-10" dy="-13" font-style="normal">1</tspan></text>
<text x="1010" y="600" class="m">X<tspan font-size="12" dy="5" font-style="normal">m</tspan><tspan font-size="12" dx="-10" dy="-13" font-style="normal">3</tspan></text>
<text x="1128" y="628" class="m">X<tspan font-size="12" dy="5" font-style="normal">n</tspan><tspan font-size="12" dx="-7" dy="-13" font-style="normal">1</tspan></text>
<text x="1240" y="602" class="m">X<tspan font-size="12" dy="5" font-style="normal">n</tspan><tspan font-size="12" dx="-7" dy="-13" font-style="normal">3</tspan></text>
<text x="1365" y="628" class="m">X<tspan font-size="12" dy="5" font-style="normal">d</tspan><tspan font-size="12" dx="-7" dy="-13" font-style="normal">1</tspan></text>
<text x="1466" y="604" class="m">X<tspan font-size="12" dy="5" font-style="normal">d</tspan><tspan font-size="12" dx="-7" dy="-13" font-style="normal">3</tspan></text>
<text x="897" y="758" class="m">X<tspan font-size="12" dy="5" font-style="normal">m</tspan></text>
<text x="1122" y="762" class="m">X<tspan font-size="12" dy="5" font-style="normal">n</tspan></text>
<text x="1353" y="762" class="m">X<tspan font-size="12" dy="5" font-style="normal">d</tspan></text>
<text x="1048" y="795" class="m">X<tspan font-size="12" dy="5" font-style="normal">m</tspan></text>
<text x="1050" y="878" class="m">X<tspan font-size="12" dy="5" font-style="normal">n</tspan></text>
</g>
</svg>
</body></html>
